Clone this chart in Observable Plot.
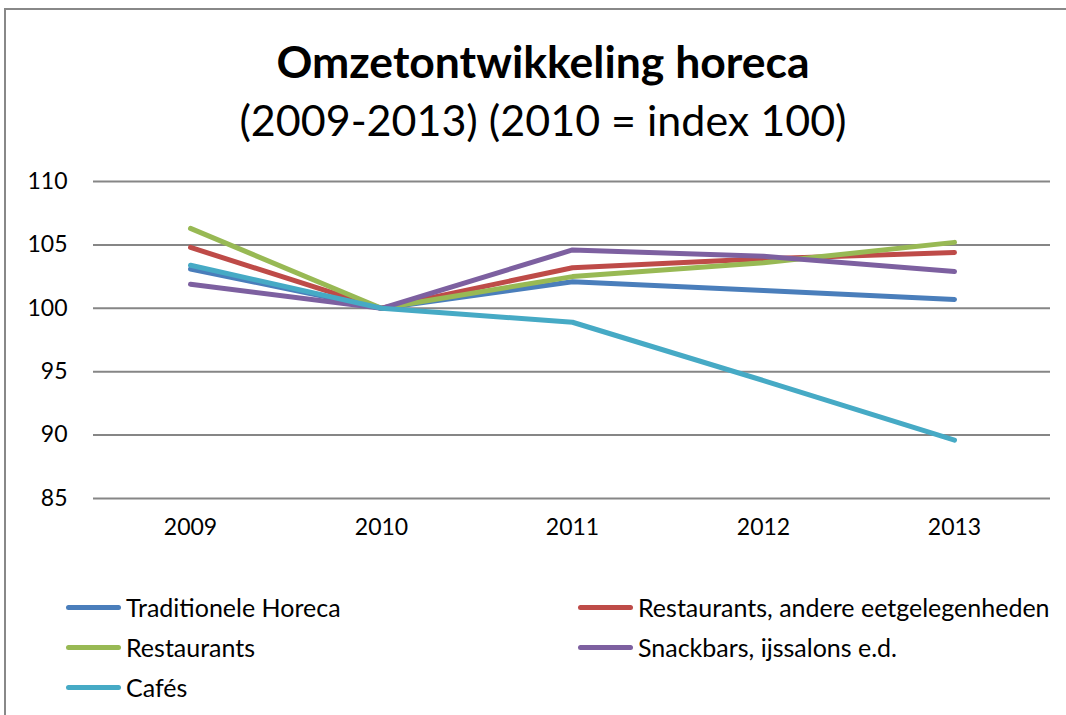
<!DOCTYPE html>
<html>
<head>
<meta charset="utf-8">
<script src="https://cdn.jsdelivr.net/npm/d3@7"></script>
<script src="https://cdn.jsdelivr.net/npm/@observablehq/plot@0.6"></script>
<style>
  html, body { margin: 0; padding: 0; background: #fff; overflow: hidden; }
  body { width: 1066px; height: 715px; position: relative; font-family: Lato, "Open Sans", sans-serif; color: #000; }
  #frame { position: absolute; left: 4px; top: 8px; width: 1062px; height: 707px; border-left: 2px solid #888; border-top: 2px solid #888; box-sizing: border-box; }
  #title { position: absolute; left: 20px; width: 1046px; top: 36px; text-align: center; font-size: 44.5px; font-weight: bold; line-height: 50px; }
  #subtitle { position: absolute; left: 20px; width: 1046px; top: 95px; text-align: center; font-size: 43px; line-height: 50px; }
  #chart { position: absolute; left: 0; top: 160px; }
  #chart svg text { font-size: 23px !important; }
  .leg { position: absolute; display: flex; align-items: center; font-size: 25px; white-space: nowrap; }
  .leg .sw { width: 55px; height: 5px; border-radius: 3px; margin-right: 5px; }
</style>
</head>
<body>
<div id="frame"></div>
<div id="title">Omzetontwikkeling horeca</div>
<div id="subtitle">(2009-2013) (2010 = index 100)</div>
<div id="chart"></div>
<div id="legend"></div>
<script>
const years = ["2009", "2010", "2011", "2012", "2013"];
const seriesNames = ["Traditionele Horeca", "Restaurants, andere eetgelegenheden", "Restaurants", "Snackbars, ijssalons e.d.", "Cafés"];
const seriesColors = ["#4A7EBB", "#BE4B48", "#98B954", "#7D60A0", "#46AAC5"];
const traditioneleHoreca = [103.1, 100, 102.1, 101.4, 100.7];
const restaurantsAndere = [104.8, 100, 103.2, 103.9, 104.4];
const restaurants = [106.3, 100, 102.5, 103.6, 105.2];
const snackbars = [101.9, 100, 104.6, 104.1, 102.9];
const cafes = [103.4, 100, 98.9, 94.3, 89.6];
const yTicks = [85, 90, 95, 100, 105, 110];

const allValues = [traditioneleHoreca, restaurantsAndere, restaurants, snackbars, cafes];
const data = [];
seriesNames.forEach((name, i) => {
  years.forEach((yr, j) => data.push({series: name, year: yr, value: allValues[i][j]}));
});

const plot = Plot.plot({
  width: 1066,
  height: 400,
  marginLeft: 93,
  marginRight: 16,
  marginTop: 21,
  marginBottom: 62,
  style: {fontFamily: "Lato, 'Open Sans', sans-serif", fontSize: "23px", color: "#000", background: "transparent"},
  x: {type: "point", domain: years, padding: 0.5, label: null},
  y: {domain: [85, 110], ticks: yTicks, label: null},
  color: {domain: seriesNames, range: seriesColors},
  marks: [
    Plot.ruleY(yTicks, {stroke: "#868686", strokeWidth: 2}),
    Plot.axisY({ticks: yTicks, tickSize: 0, tickPadding: 26, label: null, fontSize: 23}),
    Plot.axisX({tickSize: 0, tickPadding: 20, label: null, fontSize: 23}),
    Plot.line(data, {x: "year", y: "value", z: "series", stroke: "series", strokeWidth: 5, strokeLinecap: "round", strokeLinejoin: "round"})
  ]
});
document.getElementById("chart").appendChild(plot);

const legPos = [
  {left: 66, top: 592}, {left: 578, top: 592},
  {left: 66, top: 632}, {left: 578, top: 632},
  {left: 66, top: 672}
];
const legend = document.getElementById("legend");
seriesNames.forEach((name, i) => {
  const d = document.createElement("div");
  d.className = "leg";
  d.style.left = legPos[i].left + "px";
  d.style.top = legPos[i].top + "px";
  d.innerHTML = `<span class="sw" style="background:${seriesColors[i]}"></span><span>${name}</span>`;
  legend.appendChild(d);
});
</script>
</body>
</html>
